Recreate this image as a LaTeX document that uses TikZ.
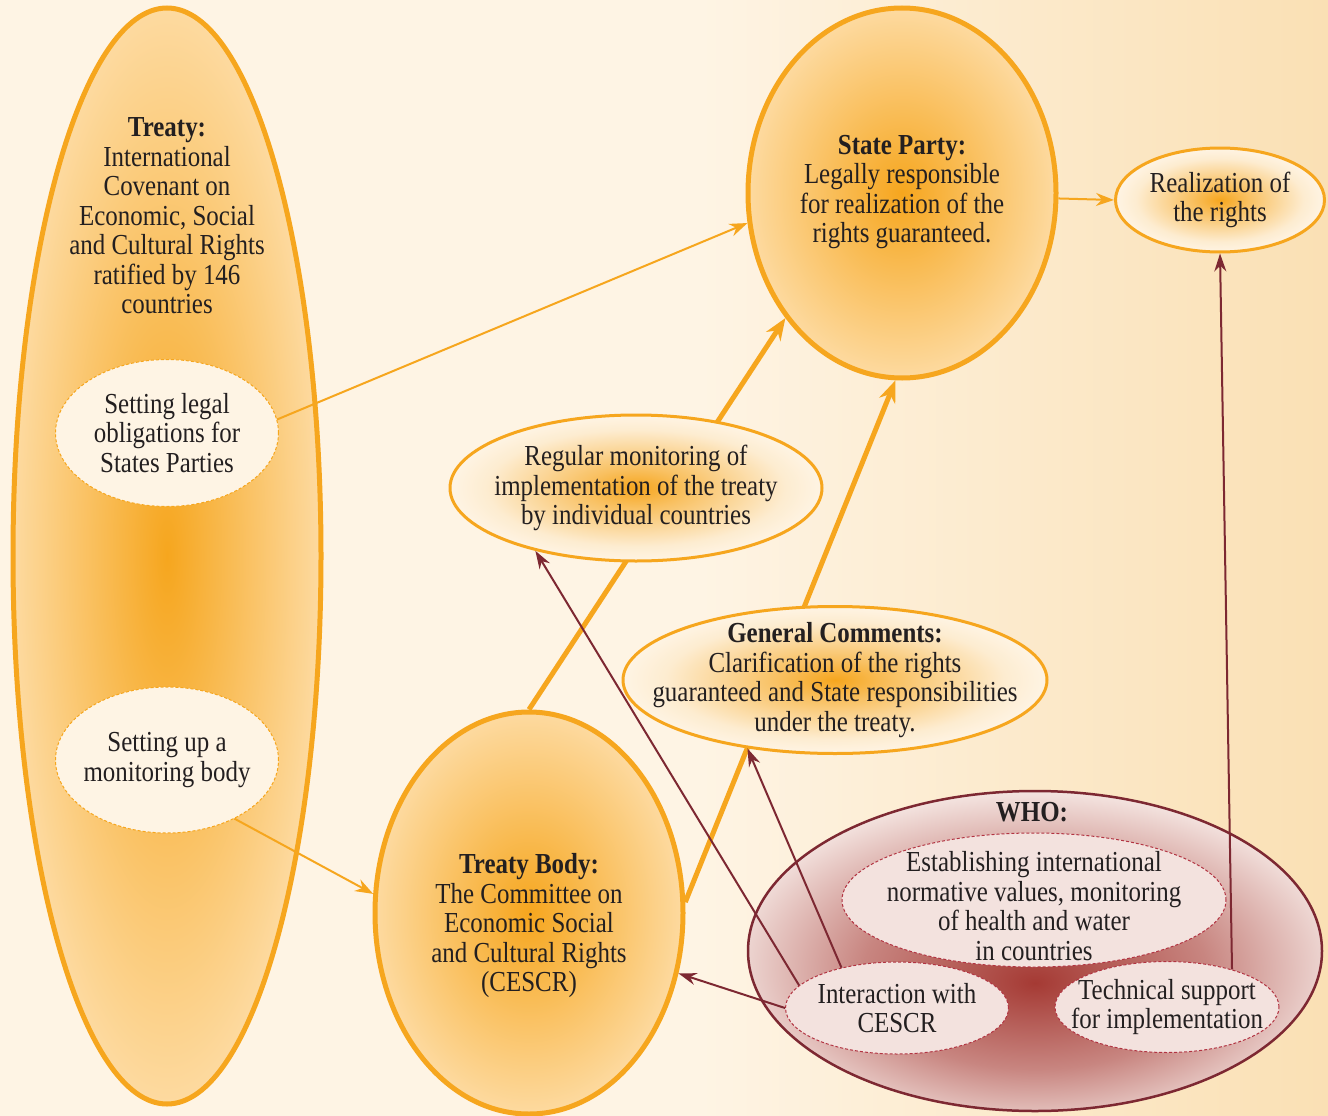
\documentclass[tikz,border=0pt]{standalone}
\usepackage{fontspec}
\setmainfont{Liberation Serif}[FakeStretch=0.86]
\usetikzlibrary{arrows.meta,shapes.geometric}

\definecolor{orng}{RGB}{246,166,30}
\definecolor{paleorng}{RGB}{253,218,160}
\definecolor{cream}{RGB}{254,244,228}
\definecolor{peach}{RGB}{250,224,180}
\definecolor{maroon}{RGB}{125,40,50}
\definecolor{whodark}{RGB}{165,58,52}
\definecolor{whopale}{RGB}{243,226,222}
\definecolor{dashred}{RGB}{178,52,66}
\definecolor{txt}{RGB}{35,31,32}

\pgfdeclareradialshading{bigspot}{\pgfpoint{0bp}{0bp}}{color(0bp)=(orng); color(25bp)=(paleorng); color(50bp)=(paleorng)}
\pgfdeclareradialshading{smallspot}{\pgfpoint{0bp}{0bp}}{color(0bp)=(orng); color(7bp)=(orng!65!cream); color(20bp)=(cream!90!orng); color(25bp)=(cream); color(50bp)=(cream)}
\pgfdeclareradialshading{whospot}{\pgfpoint{0bp}{-5bp}}{color(0bp)=(whodark); color(15bp)=(whodark!55!whopale); color(27bp)=(whopale); color(50bp)=(whopale)}

\begin{document}
\begin{tikzpicture}[x=1pt, y=-1pt,
  every node/.style={font=\fontsize{29}{29.5}\selectfont, text=txt, align=center, inner sep=0pt},
  bigoval/.style={ellipse, draw=orng, line width=5pt, shade, shading=bigspot},
  midoval/.style={ellipse, draw=orng, line width=3pt, shade, shading=smallspot},
  subtreaty/.style={ellipse, draw=orng, densely dashed, line width=1pt, fill=cream},
  whooval/.style={ellipse, draw=maroon, line width=2.5pt, shade, shading=whospot},
  subwho/.style={ellipse, draw=dashred, densely dashed, line width=1pt, fill=whopale},
  thinorng/.style={draw=orng, line width=2pt, -{Stealth[length=18pt,width=13pt]}},
  thickorng/.style={draw=orng, line width=5pt, -{Stealth[length=22pt,width=17pt]}},
  whoarrow/.style={draw=maroon, line width=2pt, -{Stealth[length=18pt,width=12pt]}}
]
\fill[cream] (0,0) rectangle (1328,1116);
\shade[left color=cream, right color=peach] (700,0) rectangle (1328,1116);
\useasboundingbox (0,0) rectangle (1328,1116);

% treaty
\node[bigoval, minimum width=308pt, minimum height=1096pt] (treaty) at (167,556) {};
\node (treatytxt) at (167,216) {\textbf{Treaty:}\\International\\Covenant on\\Economic, Social\\and Cultural Rights\\ratified by 146\\countries};
\node[subtreaty, minimum width=223pt, minimum height=147pt] (legal) at (167,433) {};
\node (legaltxt) at (legal) {Setting legal\\obligations for\\States Parties};
\node[subtreaty, minimum width=223pt, minimum height=146pt] (setup) at (167,760) {};
\node (setuptxt) at (setup) {Setting up a\\monitoring body};

% state party and treaty body
\node[bigoval, minimum width=308pt, minimum height=370pt] (state) at (902,193) {};
\node (statetxt) at (902,192) {\textbf{State Party:}\\Legally responsible\\for realization of the\\rights guaranteed.};
\node[midoval, minimum width=209pt, minimum height=104pt] (real) at (1220,200) {};
\node (realtxt) at (real) {Realization of\\the rights};
\node[bigoval, minimum width=308pt, minimum height=402pt] (tbody) at (529,913) {};
\node (tbodytxt) at (529,926) {\textbf{Treaty Body:}\\The Committee on\\Economic Social\\and Cultural Rights\\(CESCR)};

% WHO
\node[whooval, minimum width=574pt, minimum height=320pt] (who) at (1035,951) {};
\node (whotxt) at (1032,812) {\textbf{WHO:}};
\node[subwho, minimum width=384pt, minimum height=134pt] (norms) at (1034,900) {};
\node (normstxt) at (1034,906) {Establishing international\\normative values, monitoring\\of health and water\\in countries};
\node[subwho, minimum width=223pt, minimum height=92pt] (interact) at (897,1008) {};
\node (interacttxt) at (interact) {Interaction with\\CESCR};
\node[subwho, minimum width=224pt, minimum height=91pt] (techsup) at (1167,1007) {};
\node (techsuptxt) at (techsup) {Technical support\\for implementation};

\draw[thickorng] (tbody.90) -- (state.227);
\draw[thickorng] (tbody.4) -- (state.268);

\node[midoval, minimum width=372pt, minimum height=146pt] (monitor) at (636,488) {};
\node (monitortxt) at (monitor) {Regular monitoring of\\implementation of the treaty\\by individual countries};
\node[midoval, minimum width=424pt, minimum height=147pt] (comments) at (835,680) {};
\node (commentstxt) at (comments) {\textbf{General Comments:}\\Clarification of the rights\\guaranteed and State responsibilities\\under the treaty.};

\draw[thinorng] (legal.7) -- (state.191);
\draw[thinorng] (setup.319) -- (tbody.173);
\draw[thinorng] (state.358) -- (real.west);

\draw[whoarrow] (interact.west) -- (tbody.338);
\draw[whoarrow] (interact.167) -- (monitor.212);
\draw[whoarrow] (interact.144) -- (comments.218);
\draw[whoarrow] (techsup.30) -- (real.270);
\end{tikzpicture}
\end{document}
